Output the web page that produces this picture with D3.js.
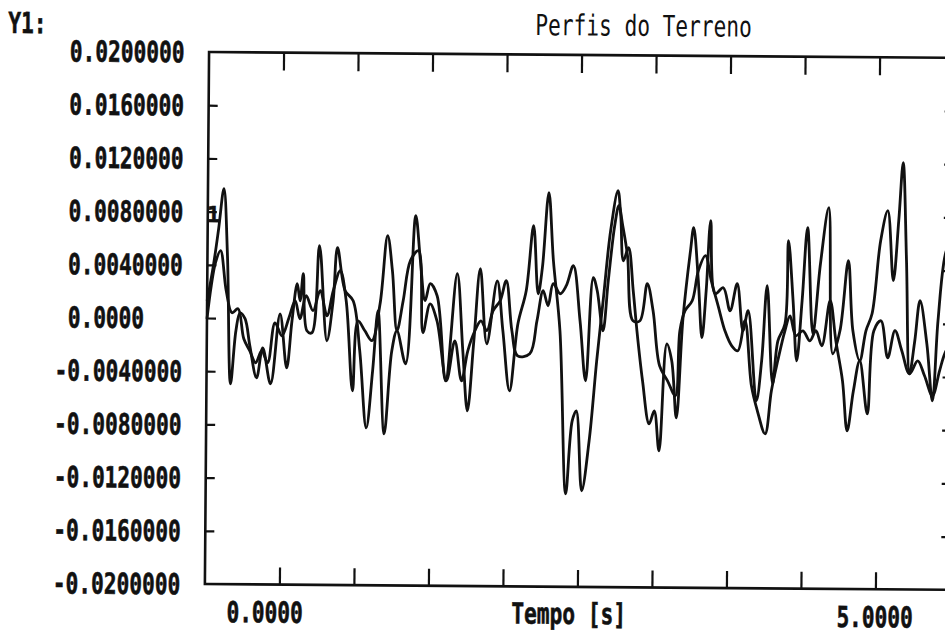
<!DOCTYPE html>
<html>
<head>
<meta charset="utf-8">
<script src="https://cdn.jsdelivr.net/npm/d3@7"></script>
<style>
  body { margin: 0; background: #fff; }
  svg { display: block; }
  text { font-family: "DejaVu Sans Mono", monospace; fill: #111; }
</style>
</head>
<body>
<main></main>
<script>
// Perfis do Terreno - two terrain profiles, time in s, height in m (values kept in mm)
const titleText = "Perfis do Terreno";
const yAxisName = "Y1:";
const xAxisName = "Tempo [s]";

const xTickValues = [0, 5];
const xTickLabels = ["0.0000", "5.0000"];
const yTickValues = [0.02, 0.016, 0.012, 0.008, 0.004, 0, -0.004, -0.008, -0.012, -0.016, -0.02];
const yTickLabels = ["0.0200000", "0.0160000", "0.0120000", "0.0080000", "0.0040000", "0.0000",
                     "-0.0040000", "-0.0080000", "-0.0120000", "-0.0160000", "-0.0200000"];
const xDomain = [-0.492, 5.615];

const timeA = [-0.492,-0.443,-0.402,-0.361,-0.328,-0.295,-0.254,-0.221,-0.180,-0.139,
  -0.082,-0.033,0.033,0.107,0.164,0.205,0.246,0.270,0.295,0.328,
  0.369,0.426,0.492,0.541,0.574,0.639,0.705,0.762,0.820,0.869,
  0.910,0.967,1.025,1.066,1.139,1.213,1.254,1.295,1.336,1.393,
  1.467,1.557,1.607,1.648,1.697,1.746,1.803,1.885,1.934,1.992,
  2.057,2.123,2.180,2.221,2.254,2.303,2.344,2.402,2.459,2.508,
  2.541,2.590,2.648,2.705,2.754,2.811,2.869,2.893,2.918,2.959,
  3.000,3.033,3.082,3.139,3.180,3.221,3.279,3.320,3.361,3.410,
  3.467,3.492,3.533,3.566,3.598,3.631,3.672,3.738,3.795,3.852,
  3.902,3.943,4.016,4.057,4.098,4.148,4.189,4.246,4.270,4.311,
  4.344,4.385,4.426,4.475,4.533,4.598,4.639,4.697,4.762,4.803,
  4.861,4.910,4.959,5.025,5.082,5.131,5.172,5.205,5.238,5.270,
  5.311,5.352,5.410,5.459,5.500,5.557,5.615];
const perfilA = [1.30,3.94,6.72,9.74,4.70,-4.94,-0.94,0.41,-0.03,-2.06,
  -4.47,-2.21,-4.91,0.36,-3.70,-0.16,2.63,1.35,3.39,-0.90,
  -1.05,5.50,-1.64,1.37,5.36,2.13,1.38,-2.37,-8.17,-3.87,
  0.65,-8.61,-2.36,-0.85,-3.33,7.82,4.43,1.43,2.71,1.81,
  -4.58,3.48,-2.31,-6.83,-1.55,3.87,-1.77,2.97,-0.78,-5.30,
  -0.25,2.24,7.13,2.02,3.98,9.63,4.51,-0.75,-13.01,-7.52,
  -6.76,-12.78,-9.01,-2.99,1.53,6.80,9.82,7.94,4.55,5.54,
  2.30,-0.71,-4.46,-7.70,-6.72,-9.72,-1.67,-2.94,-7.23,0.30,
  5.35,7.08,3.09,-1.19,2.35,7.62,2.13,2.58,0.85,2.89,
  -0.64,0.87,-5.90,-2.89,2.76,-4.61,-1.38,-0.09,6.16,1.64,
  -2.87,1.65,7.15,-0.83,4.44,8.66,-2.32,-0.59,4.69,-0.58,
  -2.83,-0.57,0.71,6.21,8.47,3.21,7.73,12.09,4.72,-3.78,
  -1.29,1.72,-1.51,-5.80,0.23,5.27,6.63];

const timeB = [-0.492,-0.459,-0.426,-0.385,-0.336,-0.287,-0.238,-0.189,-0.139,-0.090,
  -0.041,0.008,0.066,0.123,0.180,0.230,0.270,0.320,0.377,0.434,
  0.492,0.541,0.598,0.648,0.705,0.746,0.803,0.861,0.926,0.984,
  1.025,1.066,1.115,1.172,1.238,1.279,1.336,1.393,1.475,1.541,
  1.598,1.648,1.705,1.754,1.803,1.852,1.910,1.959,2.008,2.057,
  2.156,2.213,2.262,2.303,2.344,2.402,2.451,2.508,2.566,2.615,
  2.672,2.705,2.754,2.795,2.844,2.877,2.910,2.951,3.000,3.057,
  3.115,3.164,3.221,3.287,3.352,3.385,3.426,3.484,3.533,3.590,
  3.639,3.697,3.754,3.811,3.861,3.918,3.975,4.025,4.090,4.139,
  4.189,4.246,4.287,4.336,4.393,4.451,4.500,4.549,4.615,4.664,
  4.721,4.762,4.811,4.861,4.926,4.975,5.033,5.090,5.148,5.205,
  5.270,5.336,5.393,5.459,5.516,5.557,5.615];
const perfilB = [-0.06,2.43,4.16,5.07,2.06,0.41,0.71,-1.54,-2.44,-3.34,
  -2.43,-3.33,-0.32,-1.29,0.07,1.35,0.00,1.73,0.61,2.12,
  0.24,2.12,3.64,1.38,-5.39,-0.12,-0.87,-1.61,1.17,6.30,
  3.67,-0.85,1.41,4.43,5.19,-0.98,1.20,-0.07,-4.58,-1.57,
  -4.57,-2.31,-0.80,-0.05,-0.79,0.71,1.47,2.98,-0.78,-2.66,
  -2.50,-0.01,2.25,1.12,2.78,2.03,2.64,4.15,0.01,-4.50,
  3.26,2.28,-0.73,3.04,7.18,8.69,7.19,4.93,0.04,0.05,
  2.84,0.81,-3.33,-4.45,-5.57,-0.68,0.83,1.58,3.85,4.98,
  3.10,1.22,-0.65,-1.78,-2.15,0.11,-4.78,-6.65,-8.38,-5.14,
  -2.88,-0.62,0.51,-0.99,-0.61,-1.36,-0.60,-1.73,1.67,-1.34,
  -4.35,-8.11,-5.09,-2.83,-6.82,-0.56,0.19,-2.59,-0.55,-2.05,
  -3.78,-2.80,-3.92,-5.42,-3.54,-2.25,-1.27];

const svgSize = { width: 945, height: 633 };
const frame = { left: 207, right: 952, top: 52, bottom: 584 };
const tilt = 0.45;      // the scan is slightly rotated
const ink = "#111";
const sx = 0.73;        // narrow DOS-like glyphs

const svg = d3.select("main").append("svg")
  .attr("width", svgSize.width)
  .attr("height", svgSize.height);

svg.append("rect").attr("width", svgSize.width).attr("height", svgSize.height).attr("fill", "#fff");

const plot = svg.append("g")
  .attr("transform", `rotate(${tilt}, ${frame.left}, 318)`);

const xScale = d3.scaleLinear().domain([0, 5]).range([267, 877]);
const yScale = d3.scaleLinear().domain([-0.02, 0.02]).range([frame.bottom, frame.top]);
// frame ticks sit at tenths of the box width
const boxScale = d3.scaleLinear().domain([0, 10])
  .range([xScale(xDomain[0]), xScale(xDomain[1])]);

const label = (str, x, y, anchor, weight, size, scaleX = sx) => {
  const t = plot.append("text")
    .attr("transform", `translate(${x},${y}) scale(${scaleX},1)`)
    .attr("text-anchor", anchor)
    .attr("font-weight", weight)
    .attr("font-size", size)
    .attr("xml:space", "preserve")
    .style("white-space", "pre")
    .text(str);
  if (weight === "bold") t.attr("stroke", ink).attr("stroke-width", 0.6);
};

// frame
plot.append("rect")
  .attr("x", boxScale(0)).attr("y", frame.top)
  .attr("width", boxScale(10) - boxScale(0))
  .attr("height", frame.bottom - frame.top)
  .attr("fill", "none").attr("stroke", ink).attr("stroke-width", 2.6);

const styleAxis = (g) => {
  g.select(".domain").remove();
  g.selectAll(".tick line").attr("stroke", ink).attr("stroke-width", 2.2);
  g.selectAll(".tick text").remove();
};

plot.append("g").attr("transform", `translate(0,${frame.top})`)
  .call(d3.axisBottom(boxScale).tickValues(d3.range(1, 10)).tickSize(18)).call(styleAxis);
plot.append("g").attr("transform", `translate(0,${frame.bottom})`)
  .call(d3.axisTop(boxScale).tickValues(d3.range(1, 10)).tickSize(17)).call(styleAxis);

const innerY = yTickValues.slice(1, -1);
plot.append("g").attr("transform", `translate(${frame.left},0)`)
  .call(d3.axisRight(yScale).tickValues(innerY).tickSize(9)).call(styleAxis);
plot.append("g").attr("transform", `translate(${frame.right},0)`)
  .call(d3.axisLeft(yScale).tickValues(innerY).tickSize(9)).call(styleAxis);

// curves
const line = d3.line()
  .x(d => xScale(d[0]))
  .y(d => yScale(d[1] / 1000))
  .curve(d3.curveCatmullRom.alpha(0.5));

[[timeA, perfilA], [timeB, perfilB]].forEach(([t, v]) => {
  plot.append("path")
    .datum(t.map((d, i) => [d, v[i]]))
    .attr("d", line)
    .attr("fill", "none")
    .attr("stroke", ink)
    .attr("stroke-width", 2.8)
    .attr("stroke-linejoin", "round");
});

// texts
yTickValues.forEach((v, i) => {
  const s = yTickLabels[i].startsWith("-") ? yTickLabels[i] : " " + yTickLabels[i];
  label(s, 55, yScale(v) + 10.5, "start", "bold", 29);
});
xTickValues.forEach((v, i) => label(xTickLabels[i], xScale(v), 622, "middle", "bold", 29));
label(xAxisName, 571, 621, "middle", "bold", 29);
label(yAxisName, 6, 34.5, "start", "bold", 29);
label(titleText, 533, 32.5, "start", "normal", 29);
label("1", 206, 222, "start", "bold", 22, 1);
</script>
</body>
</html>
